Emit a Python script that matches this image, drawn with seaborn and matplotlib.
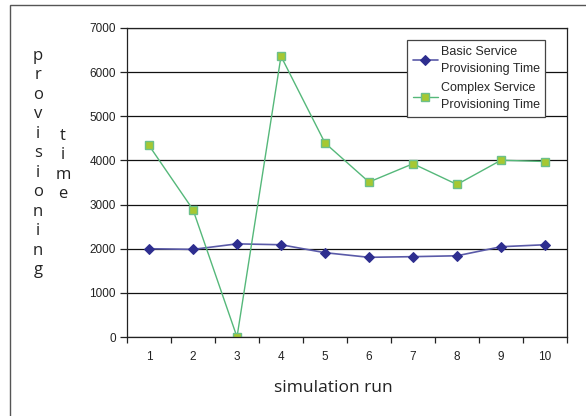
import matplotlib.pyplot as plt
import matplotlib.patches as mpatches
import seaborn as sb
import pandas as pd

runs = [1, 2, 3, 4, 5, 6, 7, 8, 9, 10]
basic_time = [2000, 1985, 2110, 2090, 1910, 1805, 1820, 1840, 2045, 2090]
complex_time = [4340, 2885, 0, 6360, 4395, 3510, 3925, 3455, 4005, 3975]
y_ticks = [0, 1000, 2000, 3000, 4000, 5000, 6000, 7000]

df = pd.DataFrame({'run': runs, 'basic': basic_time, 'complex': complex_time})

sb.set_theme(style='white')
plt.rcParams['font.family'] = ['Liberation Sans', 'DejaVu Sans']

fig = plt.figure(figsize=(5.86, 4.16), dpi=100)
ax = fig.add_axes([127/586, 1 - 337/416, 440/586, 309/416])

sb.lineplot(data=df, x='run', y='basic', ax=ax, color='#5a5aa8', lw=1.2,
            marker='D', markersize=5, markerfacecolor='#2e2e8f',
            markeredgecolor='#2e2e8f', label='Basic Service\nProvisioning Time')
sb.lineplot(data=df, x='run', y='complex', ax=ax, color='#55b87a', lw=1.0,
            marker='s', markersize=6, markerfacecolor='#a6c832',
            markeredgecolor='#6cc08a', markeredgewidth=1.0,
            label='Complex Service\nProvisioning Time')

ax.set_xlim(0.5, 10.5)
ax.set_ylim(0, 7000)
ax.set_yticks(y_ticks)
ax.set_yticklabels([str(v) for v in y_ticks], fontsize=8.5, color='#222222')
ax.set_xticks([i + 0.5 for i in range(11)])
ax.set_xticklabels([])
ax.set_xticks(runs, minor=True)
ax.set_xticklabels([str(r) for r in runs], minor=True, fontsize=8.5, color='#222222')
ax.tick_params(axis='x', which='major', direction='out', length=4, width=0.9,
               color='#222222', bottom=True)
ax.tick_params(axis='x', which='minor', length=0, pad=10)
ax.tick_params(axis='y', direction='out', length=5, width=0.9, color='#222222',
               left=True, pad=3)
ax.grid(axis='y', color='#111111', lw=0.9)
for s in ax.spines.values():
    s.set_color('#222222')
    s.set_linewidth(0.9)
ax.set_xlabel('')
ax.set_ylabel('')

leg = ax.legend(loc='upper left', bbox_to_anchor=(280/440, 1 - 12/309),
                frameon=True, fancybox=False, fontsize=9, framealpha=1,
                edgecolor='#444444', handlelength=2.0, handletextpad=0.25,
                borderpad=0.45, labelspacing=0.55, borderaxespad=0)
leg.get_frame().set_linewidth(0.9)
for t in leg.get_texts():
    t.set_linespacing(1.6)

fig.text(333/586, 1 - 388/416, 'simulation run', family='Open Sans',
         fontsize=12.5, color='#222222', ha='center', va='center')
fig.text(38/586, 1 - 48/416, '\n'.join('provisioning'), family='Open Sans',
         fontsize=12, color='#222222', ha='center', va='top', linespacing=1.29)
fig.text(63/586, 1 - 128/416, '\n'.join('time'), family='Open Sans',
         fontsize=12, color='#222222', ha='center', va='top', linespacing=1.29)

fig.patches.append(mpatches.Rectangle((10/586, -0.1), 1.2, 1.1 - 5/416,
                                      transform=fig.transFigure, fill=False,
                                      edgecolor='#555555', lw=1.0))

plt.savefig('out.png', dpi=100)
